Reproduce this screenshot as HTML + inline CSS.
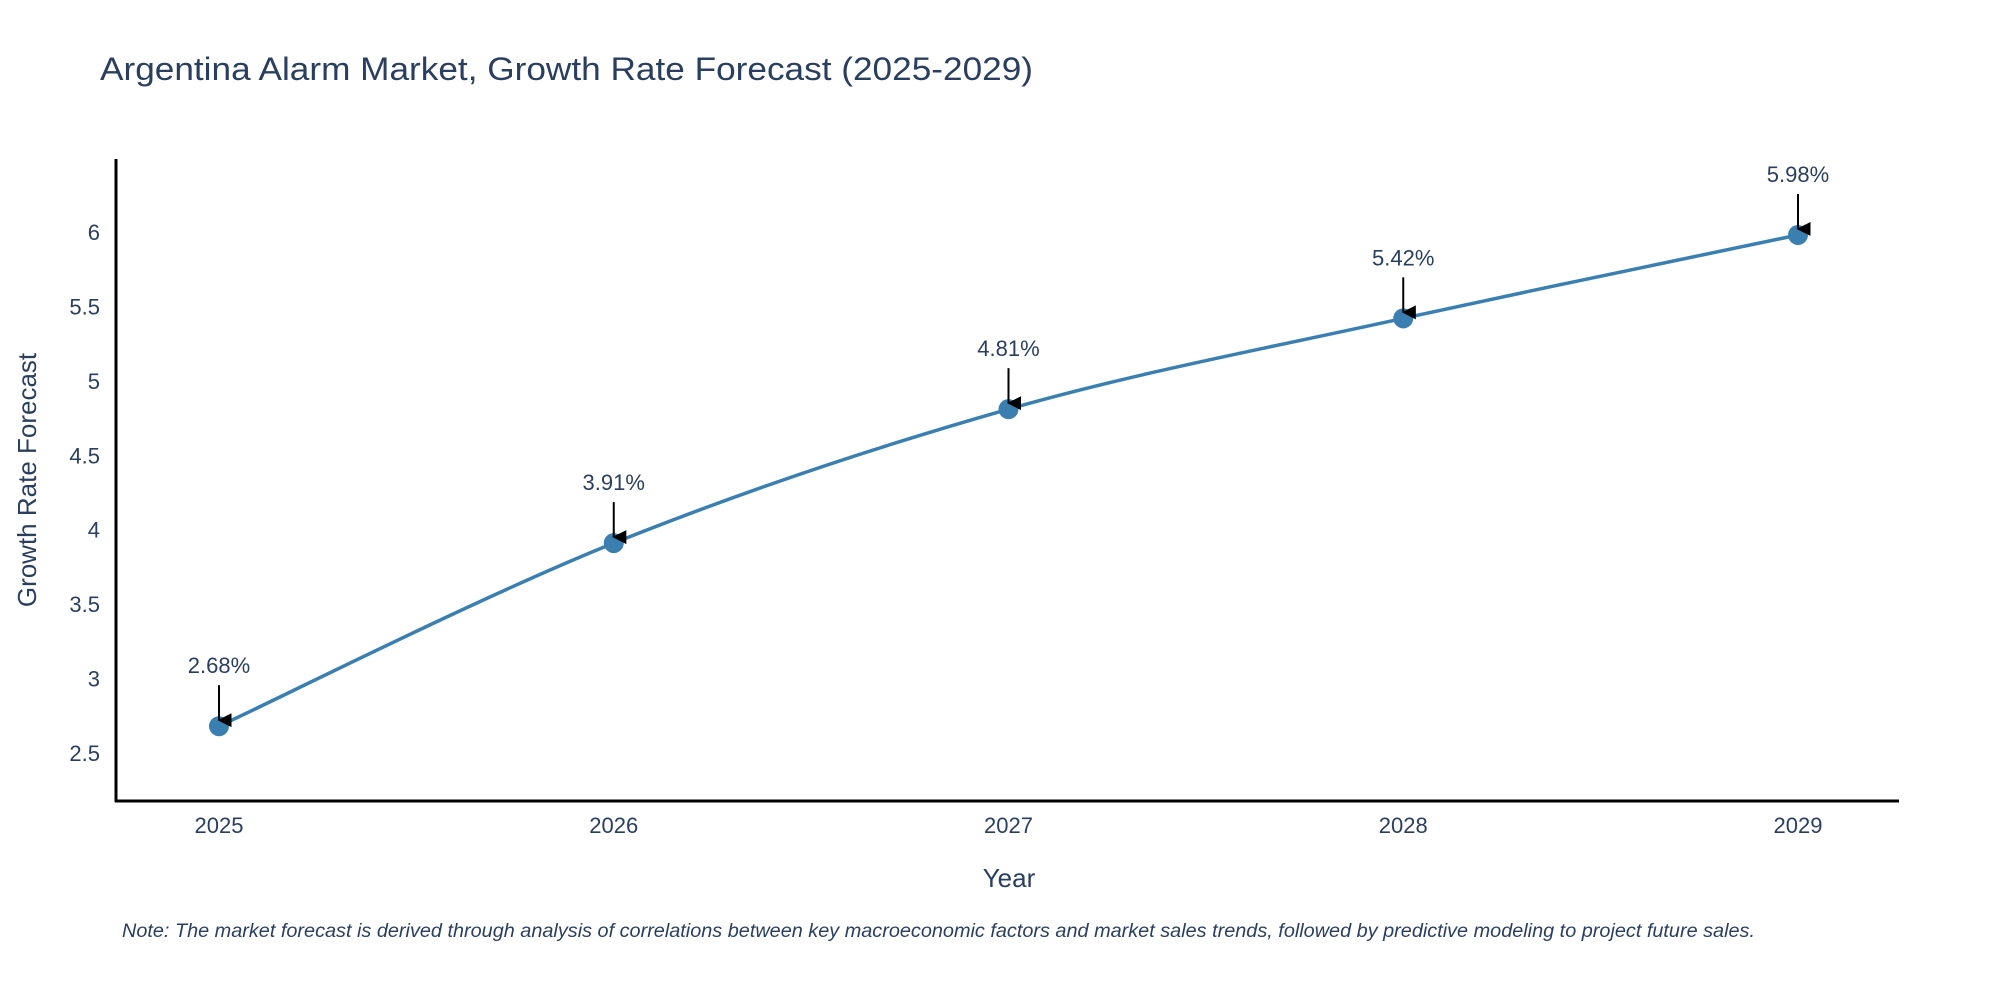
<!DOCTYPE html>
<html><head><meta charset="utf-8"><style>
html,body{margin:0;padding:0;background:#fff;}
svg{display:block;font-family:"Liberation Sans",sans-serif;}
</style></head><body>
<svg id="chart" width="2000" height="1000" viewBox="0 0 2000 1000">
<defs><marker id="ah" viewBox="0 0 10 10" refX="5" refY="9" markerWidth="14" markerHeight="14" markerUnits="userSpaceOnUse" orient="auto-start-reverse"><path d="M0,0 L10,0 L5,10 Z" fill="#000"/></marker></defs>
<text x="100" y="80" font-size="32" fill="#2a3f5f" textLength="933" lengthAdjust="spacingAndGlyphs">Argentina Alarm Market, Growth Rate Forecast (2025-2029)</text>
<g id="yticks"></g>
<g id="xticks"></g>
<line x1="116" y1="159" x2="116" y2="802" stroke="#000" stroke-width="3"/>
<line x1="115" y1="801" x2="1899" y2="801" stroke="#000" stroke-width="3"/>
<path id="line" fill="none" stroke="#3a7fb0" stroke-width="3.5"/>
<g id="pts"></g>
<g id="ann"></g>
<text x="1009" y="887" font-size="26" fill="#2a3f5f" text-anchor="middle">Year</text>
<text transform="translate(36,480) rotate(-90)" font-size="26" fill="#2a3f5f" text-anchor="middle">Growth Rate Forecast</text>
<text x="122" y="937" font-size="19" font-style="italic" fill="#2a3f5f" textLength="1633" lengthAdjust="spacingAndGlyphs">Note: The market forecast is derived through analysis of correlations between key macroeconomic factors and market sales trends, followed by predictive modeling to project future sales.</text>
</svg>
<script>
const years = ["2025","2026","2027","2028","2029"];
const values = [2.68, 3.91, 4.81, 5.42, 5.98];
const yTicks = [2.5, 3, 3.5, 4, 4.5, 5, 5.5, 6];
const NS = "http://www.w3.org/2000/svg";
function xPos(i){ return 219 + i * (1798 - 219) / (years.length - 1); }
function yPos(v){ return 753 - (v - 2.5) * (753 - 232) / 3.5; }
function mk(tag, attrs, parent){ const e = document.createElementNS(NS, tag); for (const k in attrs) e.setAttribute(k, attrs[k]); parent.appendChild(e); return e; }
const yt = document.getElementById('yticks');
yTicks.forEach(t => {
  const e = mk('text', {x: 100, y: yPos(t) + 8, 'font-size': 22, fill: '#2a3f5f', 'text-anchor': 'end'}, yt);
  e.textContent = String(t);
  
  
});
const xt = document.getElementById('xticks');
years.forEach((y, i) => {
  const e = mk('text', {x: xPos(i), y: 833, 'font-size': 22, fill: '#2a3f5f', 'text-anchor': 'middle'}, xt);
  e.textContent = y;
  
  
});
const P = values.map((v, i) => [xPos(i), yPos(v)]);
let d = 'M' + P[0][0] + ',' + P[0][1];
for (let i = 0; i < P.length - 1; i++) {
  const p0 = P[Math.max(0, i - 1)], p1 = P[i], p2 = P[i + 1], p3 = P[Math.min(P.length - 1, i + 2)];
  const c1 = [p1[0] + (p2[0] - p0[0]) / 6, p1[1] + (p2[1] - p0[1]) / 6];
  const c2 = [p2[0] - (p3[0] - p1[0]) / 6, p2[1] - (p3[1] - p1[1]) / 6];
  d += ' C' + c1 + ' ' + c2 + ' ' + p2;
}
document.getElementById('line').setAttribute('d', d);
const pts = document.getElementById('pts'), ann = document.getElementById('ann');
values.forEach((v, i) => {
  const x = xPos(i), y = yPos(v);
  const c = mk('circle', {cx: x, cy: y, r: 10, fill: '#3a7fb0'}, pts);
  
  
  const a = mk('line', {x1: x, y1: y - 41, x2: x, y2: y - 6, stroke: '#000', 'stroke-width': 2, 'marker-end': 'url(#ah)'}, ann);
  
  
  const t = mk('text', {x: x, y: y - 53, 'font-size': 22, fill: '#2a3f5f', 'text-anchor': 'middle'}, ann);
  t.textContent = v.toFixed(2) + '%';
  
  
});
</script>
</body></html>
